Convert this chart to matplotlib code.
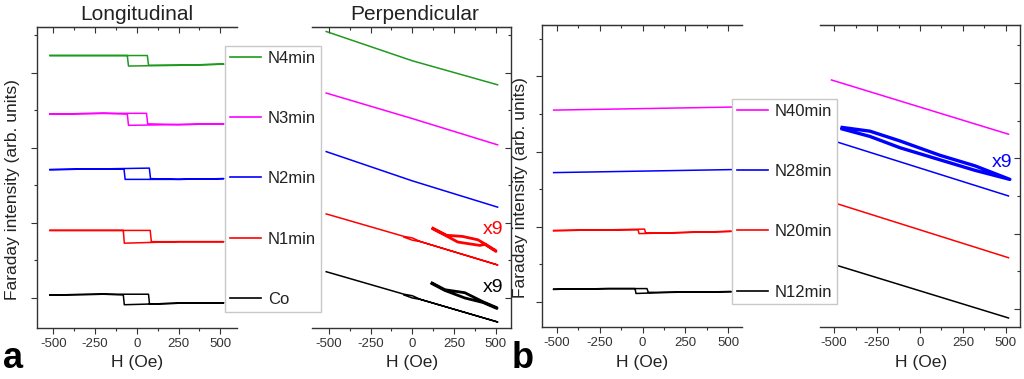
import matplotlib.pyplot as plt
from matplotlib.lines import Line2D
from matplotlib.ticker import MultipleLocator, NullFormatter

plt.rcParams['font.family'] = ['Liberation Sans', 'DejaVu Sans']
plt.rcParams['axes.unicode_minus'] = False

# ---- data: field H (Oe) vs Faraday intensity (arb. units) ----
# (a) longitudinal hysteresis loops
h_n4_long = [-520, -200, 63, 70, 250, 520, 520, 250, -50, -57, -200, -520]
y_n4_long = [3.23, 3.23, 3.23, 3.10, 3.10, 3.115, 3.115, 3.10, 3.09, 3.23, 3.23, 3.23]
h_n3_long = [-520, -200, 58, 65, 250, 520, 520, 250, -50, -57, -200, -520]
y_n3_long = [2.45, 2.46, 2.46, 2.32, 2.31, 2.32, 2.32, 2.31, 2.30, 2.45, 2.46, 2.45]
h_n2_long = [-520, -200, 75, 82, 250, 520, 520, 250, -70, -77, -200, -520]
y_n2_long = [1.71, 1.72, 1.73, 1.59, 1.58, 1.59, 1.59, 1.58, 1.58, 1.72, 1.72, 1.71]
h_n1_long = [-520, -200, 80, 87, 250, 520, 520, 250, -75, -81, -200, -520]
y_n1_long = [0.90, 0.90, 0.90, 0.75, 0.75, 0.75, 0.75, 0.75, 0.73, 0.90, 0.90, 0.90]
h_co_long = [-520, -200, 70, 76, 250, 520, 520, 250, -75, -81, -200, -520]
y_co_long = [0.04, 0.05, 0.05, -0.08, -0.07, -0.065, -0.065, -0.07, -0.09, 0.04, 0.05, 0.04]

# (a) perpendicular curves
h_n4_perp = [-515, 0, 510]
y_n4_perp = [3.55, 3.16, 2.84]
h_n3_perp = [-515, 0, 510]
y_n3_perp = [2.73, 2.39, 2.04]
h_n2_perp = [-515, 0, 510]
y_n2_perp = [1.95, 1.56, 1.21]
h_n1_perp = [-515, -50, 0, 50, 510, 50, 0, -50]
y_n1_perp = [1.12, 0.82, 0.80, 0.75, 0.44, 0.75, 0.77, 0.81]
h_co_perp = [-515, -50, 0, 50, 510, 50, 0, -50]
y_co_perp = [0.35, 0.05, 0.03, -0.02, -0.32, -0.02, 0.00, 0.04]
# x9 magnified loops
h_n1_x9 = [123, 205, 300, 392, 434, 500, 500, 434, 404, 272, 205, 123]
y_n1_x9 = [0.93, 0.835, 0.82, 0.775, 0.72, 0.63, 0.62, 0.715, 0.70, 0.745, 0.825, 0.92]
h_co_x9 = [118, 195, 314, 422, 506, 506, 422, 314, 195, 118]
y_co_x9 = [0.20, 0.11, 0.07, -0.05, -0.13, -0.14, -0.06, 0.00, 0.10, 0.19]

# (b) longitudinal
h_n40_long = [-520, 0, 520]
y_n40_long = [2.55, 2.57, 2.59]
h_n28_long = [-520, 0, 520]
y_n28_long = [1.72, 1.74, 1.76]
h_n20_long = [-520, -200, 12, 18, 150, 520, 520, 150, -20, -26, -200, -520]
y_n20_long = [0.95, 0.96, 0.97, 0.92, 0.92, 0.94, 0.94, 0.92, 0.91, 0.96, 0.96, 0.95]
h_n12_long = [-520, -200, 26, 34, 150, 520, 520, 150, -38, -44, -200, -520]
y_n12_long = [0.17, 0.18, 0.18, 0.13, 0.13, 0.14, 0.14, 0.13, 0.115, 0.18, 0.18, 0.17]

# (b) perpendicular
h_n40_perp = [-515, 0, 515]
y_n40_perp = [3.04, 2.68, 2.32]
h_n28_perp = [-515, 0, 515]
y_n28_perp = [2.24, 1.87, 1.50]
h_n20_perp = [-515, 0, 515]
y_n20_perp = [1.42, 1.05, 0.68]
h_n12_perp = [-515, 0, 515]
y_n12_perp = [0.60, 0.24, -0.12]
h_n28_x9 = [-453, -291, -116, 116, 320, 523, 523, 320, 116, -116, -291, -453]
y_n28_x9 = [2.41, 2.36, 2.23, 2.04, 1.90, 1.72, 1.72, 1.84, 1.98, 2.14, 2.29, 2.39]

labels_a = ['N4min', 'N3min', 'N2min', 'N1min', 'Co']
labels_b = ['N40min', 'N28min', 'N20min', 'N12min']
colors = ['#1f9a1f', '#ff00ff', '#0000ff', '#ff0000', '#000000']

W, H = 1024, 379
fig = plt.figure(figsize=(W / 100, H / 100), dpi=100)
axis_col = '#333333'


def make_ax(x0, x1, y_top, y_bot, side):
    ax = fig.add_axes([x0 / W, 1 - y_bot / H, (x1 - x0) / W, (y_bot - y_top) / H])
    for s in ax.spines.values():
        s.set_color(axis_col)
        s.set_linewidth(1.0)
    ax.spines['right' if side == 'left' else 'left'].set_visible(False)
    ax.set_xticks([-500, -250, 0, 250, 500])
    ax.xaxis.set_minor_locator(MultipleLocator(125))
    ax.yaxis.set_major_locator(MultipleLocator(1))
    ax.yaxis.set_minor_locator(MultipleLocator(0.5))
    ax.yaxis.set_major_formatter(NullFormatter())
    ax.tick_params(axis='x', which='both', direction='out', colors=axis_col,
                   labelsize=9.5, labelcolor='#333333', width=0.8)
    ax.tick_params(axis='x', which='major', length=4)
    ax.tick_params(axis='x', which='minor', length=2.5)
    if side == 'left':
        ax.tick_params(axis='y', which='both', left=True, right=False,
                       direction='out', colors=axis_col, width=0.8)
    else:
        ax.yaxis.tick_right()
        ax.tick_params(axis='y', which='both', left=False, right=True,
                       direction='in', colors=axis_col, width=0.8)
    ax.tick_params(axis='y', which='major', length=4)
    ax.tick_params(axis='y', which='minor', length=2.5)
    top = ax.secondary_xaxis('top')
    top.set_xticks([-500, -250, 0, 250, 500])
    top.xaxis.set_minor_locator(MultipleLocator(125))
    top.tick_params(which='both', direction='in', labeltop=False,
                    colors=axis_col, width=0.8)
    top.tick_params(which='major', length=4)
    top.tick_params(which='minor', length=2.5)
    top.spines['top'].set_color(axis_col)
    return ax


ax1 = make_ax(37, 237, 27, 328, 'left')
ax2 = make_ax(312, 511, 27, 328, 'right')
ax3 = make_ax(542, 742, 25, 327, 'left')
ax4 = make_ax(820, 1020, 25, 327, 'right')

ax1.set_xlim(-598, 600)
ax1.set_ylim(-0.40, 3.61)
ax2.set_xlim(-600, 590)
ax2.set_ylim(-0.40, 3.61)
ax3.set_xlim(-588, 582)
ax3.set_ylim(-0.33, 3.68)
ax4.set_xlim(-582, 582)
ax4.set_ylim(-0.24, 3.77)

lw = 1.1
long_a = [(h_n4_long, y_n4_long), (h_n3_long, y_n3_long), (h_n2_long, y_n2_long),
          (h_n1_long, y_n1_long), (h_co_long, y_co_long)]
perp_a = [(h_n4_perp, y_n4_perp), (h_n3_perp, y_n3_perp), (h_n2_perp, y_n2_perp),
          (h_n1_perp, y_n1_perp), (h_co_perp, y_co_perp)]
for (h, y), c in zip(long_a, colors):
    ax1.plot(h, y, color=c, lw=lw)
for (h, y), c in zip(perp_a, colors):
    ax2.plot(h, y, color=c, lw=lw)
ax2.plot(h_n1_x9, y_n1_x9, color='#ff0000', lw=2.0)
ax2.plot(h_co_x9, y_co_x9, color='#000000', lw=2.0)
ax2.text(482, 0.907, 'x9', color='#ff0000', fontsize=14, ha='center', va='center')
ax2.text(482, 0.133, 'x9', color='#000000', fontsize=14, ha='center', va='center')

colors_b = colors[1:]
long_b = [(h_n40_long, y_n40_long), (h_n28_long, y_n28_long),
          (h_n20_long, y_n20_long), (h_n12_long, y_n12_long)]
perp_b = [(h_n40_perp, y_n40_perp), (h_n28_perp, y_n28_perp),
          (h_n20_perp, y_n20_perp), (h_n12_perp, y_n12_perp)]
for (h, y), c in zip(long_b, colors_b):
    ax3.plot(h, y, color=c, lw=lw)
for (h, y), c in zip(perp_b, colors_b):
    ax4.plot(h, y, color=c, lw=lw)
ax4.plot(h_n28_x9, y_n28_x9, color='#0000ff', lw=2.4)
ax4.text(477, 1.95, 'x9', color='#0000ff', fontsize=14, ha='center', va='center')

# legends
handles_a = [Line2D([], [], color=c, lw=1.2) for c in colors]
handles_b = [Line2D([], [], color=c, lw=1.2) for c in colors_b]
for hd, lb, anchor in [(handles_a, labels_a, (225 / W, 1 - 46 / H)),
                       (handles_b, labels_b, (732 / W, 1 - 99 / H))]:
    leg = fig.legend(hd, lb, loc='upper left', bbox_to_anchor=anchor,
                     fontsize=12, labelspacing=2.72, handlelength=1.85,
                     handletextpad=0.45, borderpad=0.28, borderaxespad=0,
                     fancybox=False, framealpha=1)
    leg.get_frame().set_edgecolor('#c8c8c8')
    leg.get_frame().set_linewidth(1.0)
    for t in leg.get_texts():
        t.set_color('#222222')

# titles and axis labels
txt = '#222222'
fig.text(137 / W, 1 - 15 / H, 'Longitudinal', fontsize=15, ha='center', va='center', color=txt)
fig.text(415 / W, 1 - 15 / H, 'Perpendicular', fontsize=15, ha='center', va='center', color=txt)
for xc in [137, 412, 642, 921]:
    fig.text(xc / W, 1 - 362 / H, 'H (Oe)', fontsize=12.5, ha='center', va='center', color=txt)
fig.text(13 / W, 1 - 190 / H, 'Faraday intensity (arb. units)', fontsize=12.5,
         rotation=90, ha='center', va='center', color=txt)
fig.text(521 / W, 1 - 188 / H, 'Faraday intensity (arb. units)', fontsize=12.5,
         rotation=90, ha='center', va='center', color=txt)
fig.text(3 / W, 1 - 368 / H, 'a', fontsize=26, fontweight='bold', ha='left', va='baseline')
fig.text(512 / W, 1 - 368 / H, 'b', fontsize=26, fontweight='bold', ha='left', va='baseline')

fig.savefig('out.png', dpi=100)
